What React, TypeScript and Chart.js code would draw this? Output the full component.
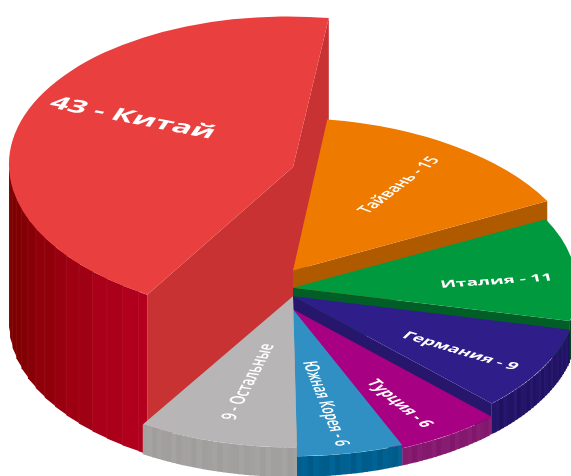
import React, { useEffect, useRef } from "react";
import { Chart, registerables } from "chart.js";

Chart.register(...registerables);

// Share of world output by producer, clockwise from the back of the pie.
const producers = ["Тайвань", "Италия", "Германия", "Турция", "Южная Корея", "Остальные", "Китай"];
const shares = [15, 11, 9, 6, 6, 9, 43];

const topColors = ["#ef7a00", "#00993d", "#2f1e8a", "#a80082", "#3090c3", "#b7b5b6", "#ea3f3f"];
const cutColors = ["#b05a00", "#005e26", "#26166c", "#8a1a70", "#00608f", "#a3a0a0", "#c83233"];
const rimDark = ["#b05a00", "#04451f", "#1e1260", "#80176a", "#005a88", "#a09d9d", "#7c0000"];
const rimLight = ["#b05a00", "#00451c", "#281870", "#8a1e74", "#006496", "#a6a3a3", "#b4001e"];

// Foreshortening of each slice's top face: vertical squash, horizontal scale and lean.
const topSquash = [0.537, 0.528, 0.528, 0.53, 0.518, 0.532, 0.53];
const topWiden = [1.02, 1, 1, 1, 1, 1, 1];
const topLean = [0.05, 0, 0, 0, 0, 0, 0.035];

// Caption placement and type.
const labelRadius = [193, 205, 194, 209, 174, 165, 185];
const labelNudge = [[-6, -1], [0, 7], [-2, 5], [-9, 2], [-3, 6], [0, 1], [13, -15]];
const labelFont = ["600 20px", "700 19px", "700 19.5px", "700 20px", "600 20px", "600 21px", "700 33px"];

const BASE_SQUASH = 0.528;
const BASE_Y = 327;
const RADIUS = 284;

const sliceHeight = (v: number) => Math.min(4.3 * v - 8, 3.68 * v + 1.8);

function mix(a: string, b: string, t: number) {
  const ch = (s: string, i: number) => parseInt(s.slice(1 + i * 2, 3 + i * 2), 16);
  const c = [0, 1, 2].map((i) => Math.round(ch(a, i) + (ch(b, i) - ch(a, i)) * t));
  return `rgb(${c[0]},${c[1]},${c[2]})`;
}

// Draws the stepped extruded pie: every slice stands on one base plane and rises with its value.
const extrudedPie = {
  id: "extrudedPie",
  beforeDatasetDraw(chart: any) {
    const ctx: CanvasRenderingContext2D = chart.ctx;
    const arcs = chart.getDatasetMeta(0).data;
    const last = arcs.length - 1;
    const order = [last, ...arcs.map((_: any, i: number) => i).slice(0, -1)];

    const quad = (pts: { x: number; y: number }[], fill: string) => {
      ctx.beginPath();
      pts.forEach((p, i) => (i ? ctx.lineTo(p.x, p.y) : ctx.moveTo(p.x, p.y)));
      ctx.closePath();
      ctx.fillStyle = fill;
      ctx.fill();
    };

    for (const i of order) {
      const arc = arcs[i];
      const r = arc.outerRadius;
      const apexY = BASE_Y - sliceHeight(shares[i]);
      const lean = topLean[i] * topSquash[i];
      const rimX = (a: number) =>
        arc.x + topWiden[i] * r * Math.cos(a) + lean * r * Math.sin(a);
      const upper = (a: number) => ({ x: rimX(a), y: apexY + r * Math.sin(a) * topSquash[i] });
      const lower = (a: number) => ({ x: rimX(a), y: BASE_Y + r * Math.sin(a) * BASE_SQUASH });

      // Radial cut faces that turn towards the viewer.
      const radial = (a: number, facing: number) => {
        if (facing <= -0.05) return;
        quad([{ x: arc.x, y: apexY }, upper(a), lower(a), { x: arc.x, y: BASE_Y }], cutColors[i]);
      };
      radial(arc.startAngle, -Math.cos(arc.startAngle));
      radial(arc.endAngle, Math.cos(arc.endAngle));

      // Outer rim, built from vertical facets over the front half.
      const lo = Math.max(arc.startAngle, 0);
      const hi = Math.min(arc.endAngle, Math.PI);
      const step = (i === last ? 4 : 1.1) * (Math.PI / 180);
      let n = 0;
      for (let a = hi; a > lo; a -= step, n++) {
        const a0 = Math.max(a - step, lo);
        const mid = (a + a0) / 2;
        const t = i === last
          ? Math.min(1, Math.max(0, (Math.PI - mid - 0.22) / 0.75 + 0.05 * Math.sin(n * 2.4)))
          : 0.5 + 0.5 * Math.sin(n * 2.4);
        const nextUp = upper(a0);
        const nextLow = lower(a0);
        // Each facet runs a pixel under its neighbour so no background shows between them.
        const more = a0 > lo ? 1 : 0;
        quad(
          [upper(a), { x: nextUp.x + more, y: nextUp.y }, { x: nextLow.x + more, y: nextLow.y }, lower(a)],
          mix(rimDark[i], rimLight[i], t)
        );
        if (i === last) {
          const up = upper(a);
          const low = lower(a);
          ctx.beginPath();
          ctx.moveTo(up.x, up.y);
          ctx.lineTo(low.x, low.y);
          ctx.strokeStyle = "rgba(255,190,190,0.12)";
          ctx.lineWidth = 0.6;
          ctx.stroke();
        }
      }

      // Top face: the library's own arc element, flattened onto the slice's level.
      ctx.save();
      ctx.translate(arc.x, apexY);
      ctx.transform(topWiden[i], 0, lean, topSquash[i], 0, 0);
      ctx.translate(-arc.x, -arc.y);
      arc.draw(ctx);
      ctx.restore();
    }

    // Radial captions lying in the plane of each slice.
    arcs.forEach((arc: any, i: number) => {
      const mid = (arc.startAngle + arc.endAngle) / 2;
      const inward = Math.cos(mid) < 0;
      const text = inward ? `${shares[i]} - ${producers[i]}` : `${producers[i]} - ${shares[i]}`;
      ctx.save();
      ctx.translate(arc.x + labelNudge[i][0], BASE_Y - sliceHeight(shares[i]) + labelNudge[i][1]);
      ctx.scale(1, topSquash[i]);
      ctx.translate(labelRadius[i] * Math.cos(mid), labelRadius[i] * Math.sin(mid));
      ctx.rotate(inward ? mid + Math.PI : mid);
      ctx.font = `${labelFont[i]} "Open Sans", sans-serif`;
      ctx.fillStyle = "#ffffff";
      ctx.textAlign = "center";
      ctx.textBaseline = "middle";
      ctx.fillText(text, 0, 0);
      ctx.restore();
    });

    return false;
  },
};

export default function App() {
  const ref = useRef<HTMLCanvasElement>(null);

  useEffect(() => {
    const chart = new Chart(ref.current as HTMLCanvasElement, {
      type: "pie",
      data: {
        labels: producers,
        datasets: [{ data: shares, backgroundColor: topColors, borderWidth: 0 }],
      },
      options: {
        animation: false,
        responsive: false,
        rotation: 8.3,
        radius: RADIUS,
        layout: { padding: { left: 15 } },
        plugins: { legend: { display: false }, tooltip: { enabled: false } },
      },
      plugins: [extrudedPie],
    } as any);
    return () => chart.destroy();
  }, []);

  return (
    <canvas
      ref={ref}
      width={571}
      height={476}
      style={{ position: "absolute", left: 0, top: 0, display: "block" }}
    />
  );
}
